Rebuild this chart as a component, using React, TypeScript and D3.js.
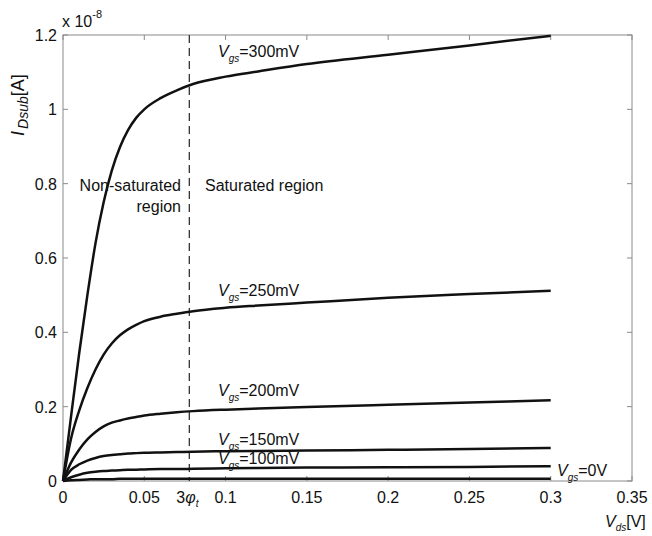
import React from "react";
import * as d3 from "d3";

// ---- data ----
const vds = [0, 0.005, 0.01, 0.015, 0.02, 0.025, 0.03, 0.035, 0.04, 0.045, 0.05, 0.06, 0.07, 0.08, 0.1, 0.12, 0.15, 0.2, 0.25, 0.3];
const i300 = [0, 0.175, 0.345, 0.5, 0.64, 0.75, 0.835, 0.898, 0.944, 0.977, 1.0, 1.03, 1.051, 1.068, 1.088, 1.102, 1.122, 1.147, 1.172, 1.198];
const i250 = [0, 0.115, 0.19, 0.25, 0.3, 0.34, 0.37, 0.392, 0.408, 0.42, 0.43, 0.442, 0.45, 0.457, 0.466, 0.472, 0.48, 0.493, 0.503, 0.512];
const i200 = [0, 0.05, 0.085, 0.112, 0.132, 0.147, 0.157, 0.163, 0.168, 0.172, 0.176, 0.181, 0.185, 0.188, 0.192, 0.195, 0.199, 0.205, 0.211, 0.217];
const i150 = [0, 0.03, 0.045, 0.055, 0.062, 0.067, 0.07, 0.072, 0.074, 0.075, 0.076, 0.077, 0.078, 0.079, 0.08, 0.081, 0.082, 0.084, 0.086, 0.089];
const i100 = [0, 0.01, 0.017, 0.022, 0.025, 0.027, 0.028, 0.029, 0.03, 0.0305, 0.031, 0.032, 0.032, 0.033, 0.034, 0.035, 0.036, 0.037, 0.038, 0.04];
const i0 = [0, 0.002, 0.003, 0.004, 0.005, 0.005, 0.005, 0.006, 0.006, 0.006, 0.006, 0.006, 0.006, 0.006, 0.006, 0.006, 0.006, 0.006, 0.006, 0.006];
const seriesNames = ["300mV", "250mV", "200mV", "150mV", "100mV", "0V"];
const seriesValues = [i300, i250, i200, i150, i100, i0];
const xTicks = [0, 0.05, 0.1, 0.15, 0.2, 0.25, 0.3, 0.35];
const xTickLabels = ["0", "0.05", "0.1", "0.15", "0.2", "0.25", "0.3", "0.35"];
const yTicks = [0, 0.2, 0.4, 0.6, 0.8, 1, 1.2];
const yTickLabels = ["0", "0.2", "0.4", "0.6", "0.8", "1", "1.2"];
const phiT = 0.0259;
const threePhiT = 3 * phiT;

// ---- layout ----
const W = 652, H = 536;
const L = 63, R = 632, T = 35, B = 481;
const FONT = "'Liberation Sans', Arial, Helvetica, sans-serif";
const labelPos: [number, number][] = [
  [218, 57], [218, 296], [218, 396], [218, 445], [218, 464], [557, 476],
];

export default function App() {
  const x = d3.scaleLinear().domain([0, 0.35]).range([L, R]);
  const y = d3.scaleLinear().domain([0, 1.2]).range([B, T]);
  const line = d3
    .line<[number, number]>()
    .x((d) => x(d[0]))
    .y((d) => y(d[1]))
    .curve(d3.curveMonotoneX);
  const axisColor = "#8a8a8a";
  const tickLen = 5;

  return (
    <svg width={W} height={H} style={{ position: "absolute", left: 0, top: 0, background: "#fff" }} fontFamily={FONT}>
      <rect x={0} y={0} width={W} height={H} fill="#fff" />
      {/* frame */}
      <rect x={L} y={T} width={R - L} height={B - T} fill="none" stroke={axisColor} strokeWidth={1} />
      {/* x ticks */}
      {xTicks.map((t, i) => (
        <g key={"xt" + i}>
          <line x1={x(t)} x2={x(t)} y1={B} y2={B - tickLen} stroke={axisColor} />
          <line x1={x(t)} x2={x(t)} y1={T} y2={T + tickLen} stroke={axisColor} />
          <text x={x(t)} y={B + 22} fontSize={16} textAnchor="middle" fill="#111">
            {xTickLabels[i]}
          </text>
        </g>
      ))}
      {/* y ticks */}
      {yTicks.map((t, i) => (
        <g key={"yt" + i}>
          <line x1={L} x2={L + tickLen} y1={y(t)} y2={y(t)} stroke={axisColor} />
          <line x1={R} x2={R - tickLen} y1={y(t)} y2={y(t)} stroke={axisColor} />
          <text x={L - 6} y={y(t) + 6} fontSize={16} textAnchor="end" fill="#111">
            {yTickLabels[i]}
          </text>
        </g>
      ))}
      {/* 3 phi_t tick label */}
      <text x={x(threePhiT) - 13} y={B + 22} fontSize={16} fill="#111">
        3<tspan fontStyle="italic">φ</tspan>
        <tspan fontStyle="italic" fontSize={10} dy={4}>t</tspan>
      </text>
      {/* dashed line */}
      <line x1={x(threePhiT)} x2={x(threePhiT)} y1={T} y2={B} stroke="#333" strokeWidth={1.3} strokeDasharray="8,5" />
      {/* curves */}
      {seriesValues.map((vals, si) => (
        <path
          key={"s" + si}
          d={line(vds.map((v, k) => [v, vals[k]] as [number, number])) || ""}
          fill="none"
          stroke="#111"
          strokeWidth={2.5}
          strokeLinejoin="round"
        />
      ))}
      {/* series labels */}
      {seriesNames.map((n, si) => (
        <text key={"l" + si} x={labelPos[si][0]} y={labelPos[si][1]} fontSize={16} fill="#111">
          <tspan fontStyle="italic">V</tspan>
          <tspan fontStyle="italic" fontSize={10} dy={5}>gs</tspan>
          <tspan dy={-5}>={n}</tspan>
        </text>
      ))}
      {/* region labels */}
      <text x={181} y={191} fontSize={16} textAnchor="end" fill="#111">Non-saturated</text>
      <text x={181} y={212} fontSize={16} textAnchor="end" fill="#111">region</text>
      <text x={205} y={191} fontSize={16} fill="#111">Saturated region</text>
      {/* exponent */}
      <text x={62} y={27} fontSize={16} fill="#111">
        x 10<tspan fontSize={11} dy={-9}>-8</tspan>
      </text>
      {/* y label */}
      <text transform="translate(24,136) rotate(-90)" fontSize={18} fill="#111">
        <tspan fontStyle="italic">I</tspan>
        <tspan fontStyle="italic" fontSize={14} dx={2} dy={4}>Dsub</tspan>
        <tspan dy={-4}>[A]</tspan>
      </text>
      {/* x label */}
      <text x={605} y={527} fontSize={16} fill="#111">
        <tspan fontStyle="italic">V</tspan>
        <tspan fontStyle="italic" fontSize={10} dy={4}>ds</tspan>
        <tspan dy={-4}>[V]</tspan>
      </text>
    </svg>
  );
}
